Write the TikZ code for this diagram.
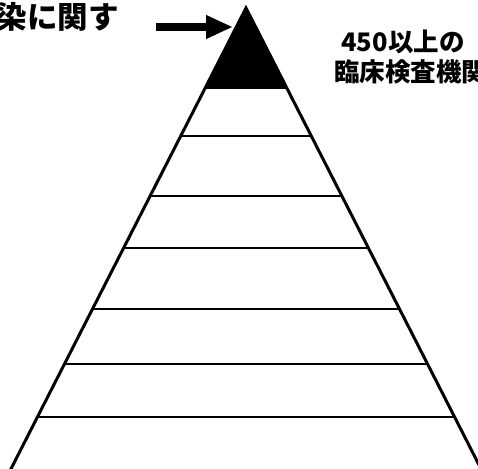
\documentclass[tikz,border=0pt]{standalone}
\usepackage{fontspec}
\newfontfamily\cjk{Noto Sans CJK JP}
\usetikzlibrary{arrows.meta}
\tikzset{
  side/.style={line width=3pt, line join=miter},
  tier/.style={line width=2.2pt},
  lbl/.style={font=\cjk\bfseries, inner sep=0pt, text=black},
}
\begin{document}
\begin{tikzpicture}[x=1pt,y=-1pt]
\useasboundingbox (0,0) rectangle (478,468);
\clip (0,0) rectangle (478,468);
% pyramid
\coordinate (apex) at (246,8);
\coordinate (bl) at (5.3,480);
\coordinate (br) at (486.7,480);
\fill[black] (apex) -- (204.7,89) -- (287.3,89) -- cycle;
\foreach \y/\h in {136/65.3, 196/95.9, 248/122.4, 309/153.5, 364/181.6, 417/208.6}{
  \draw[tier] ({246-\h},\y) -- ({246+\h},\y);
}
\draw[side] (bl) -- (apex) -- (br);
% left label and arrow
\node[lbl, font=\fontsize{30.5}{30.5}\cjk\bfseries, anchor=east] (left) at (119,17) {感染に関す};
\coordinate (as) at (156,27);
\coordinate (ae) at (233,27);
\draw[line width=7.5pt, -{Triangle[length=27pt,width=22pt]}] (as) -- (ae);
% right label
\node[lbl, font=\fontsize{25.5}{25.5}\cjk\bfseries] (r1) at (403,42) {450以上の};
\node[lbl, font=\fontsize{25.5}{25.5}\cjk\bfseries, anchor=west] (r2) at (334,72) {臨床検査機関};
\end{tikzpicture}
\end{document}
